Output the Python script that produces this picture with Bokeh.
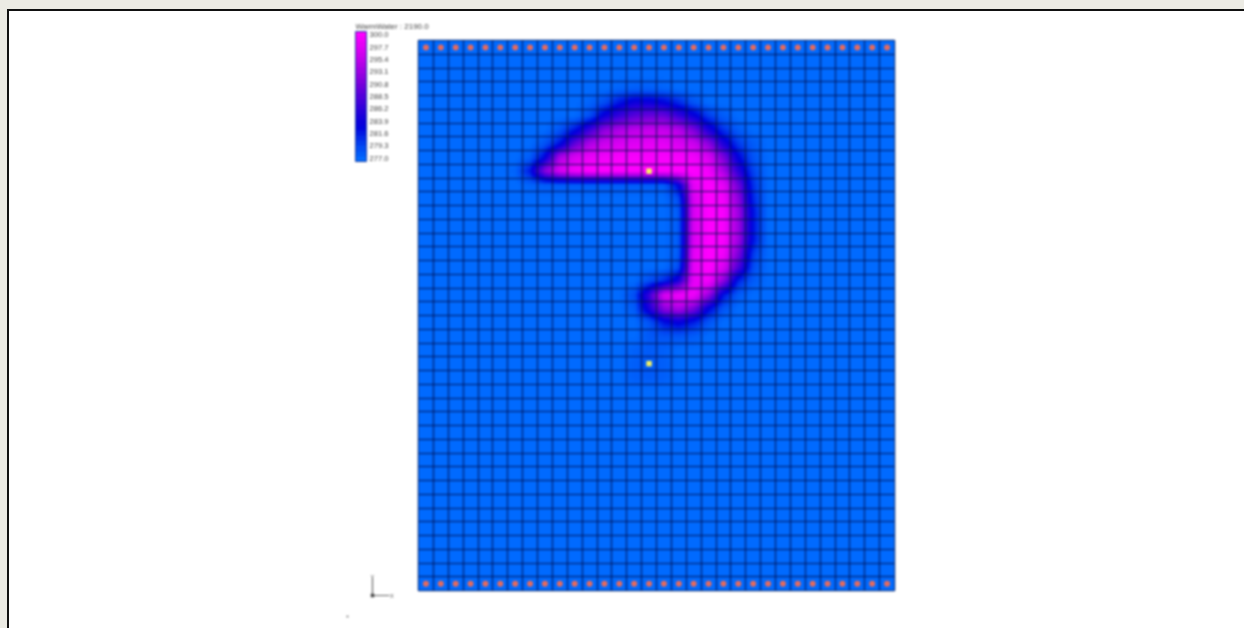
import numpy as np
from bokeh.plotting import figure
from bokeh.core.properties import value
from bokeh.models import LinearColorMapper, ColorBar, FixedTicker, NumeralTickFormatter
from bokeh.embed import file_html
from bokeh.resources import INLINE

N_COLS = 32
N_ROWS = 40
BASE_TEMP = 277.0
TITLE = "WarmWater : 2190.0"
LEGEND_TICKS = [277.0, 279.3, 281.6, 283.9, 286.2, 288.5, 290.8, 293.1, 295.4, 297.7, 300.0]
TRIAD_LABELS = ["X", "Y"]

# (row from top, first column, temperatures)
PLUME = [
    (3, 13, [277.5, 277.8, 277.8, 277.5]),
    (4, 11, [277.5, 279, 282, 284, 284, 283, 281, 278.5]),
    (5, 11, [279, 284, 287, 289, 290, 290, 287, 284, 280, 278]),
    (6, 9, [278.5, 282, 287, 292, 294, 295, 295.5, 295.5, 294.5, 291, 285, 280.5, 278]),
    (7, 8, [278.5, 282, 289, 294, 296, 297, 297.5, 298, 298, 297, 296, 292, 285, 280, 278]),
    (8, 7, [278, 283, 294, 297, 298.5, 299, 299.5, 299.5, 299.5, 299.5, 299.5, 299, 297, 291, 283, 278.5]),
    (9, 6, [277.5, 282, 292, 297, 299, 300, 300, 300, 300, 300, 300, 300, 300, 299, 294, 286, 279.5]),
    (10, 7, [277.5, 278, 278, 278, 278, 278, 278, 278, 278, 278, 283, 298, 300, 298, 290, 280.5]),
    (11, 17, [279, 297, 300, 299, 292, 281]),
    (12, 17, [278, 297, 300, 299.5, 293, 282]),
    (13, 17, [278, 297, 300, 299.5, 293, 282]),
    (14, 17, [278, 297, 300, 299.5, 293, 282]),
    (15, 17, [278, 298, 300, 299, 291, 280]),
    (16, 17, [279, 298, 300, 297, 288, 279]),
    (17, 15, [279, 281, 285, 298, 299, 292, 281, 278]),
    (18, 14, [279, 287, 297, 299, 299, 293, 282, 278]),
    (19, 14, [278, 285, 292, 294, 291, 283, 278.5]),
    (20, 15, [278.5, 282, 283.5, 281.5, 278.5]),
    (21, 15, [278.2, 278.5, 278.5, 278]),
    (22, 14, [277.6, 278, 277.7]),
    (23, 14, [277.8, 278.2, 277.8]),
    (24, 14, [277.8, 278, 277.8]),
]
SOURCE_CELLS = [(15, 9), (15, 23)]

COLOR_STOPS = [
    (277.0, (0, 106, 255)),
    (279.3, (2, 72, 242)),
    (283.0, (0, 0, 220)),
    (286.2, (45, 0, 218)),
    (290.8, (120, 0, 218)),
    (295.4, (195, 0, 235)),
    (300.0, (255, 0, 255)),
]


def ramp(n):
    t = np.linspace(277, 300, n)
    xs = [s[0] for s in COLOR_STOPS]
    out = []
    for v in t:
        c = [int(np.interp(v, xs, [s[1][i] for s in COLOR_STOPS])) for i in range(3)]
        out.append("#%02x%02x%02x" % tuple(c))
    return out


field = np.full((N_ROWS, N_COLS), BASE_TEMP)
for row, first, vals in PLUME:
    field[row, first:first + len(vals)] = vals
field = field[::-1]  # image row 0 is at the bottom

# Smooth shading between cell centres
K = 8
xi = (np.arange(N_COLS * K) + .5) / K - .5
yi = (np.arange(N_ROWS * K) + .5) / K - .5
tmp = np.array([np.interp(xi, np.arange(N_COLS), r) for r in field])
smooth = np.array([np.interp(yi, np.arange(N_ROWS), c) for c in tmp.T]).T

SOFT = "blur(0.9px)"  # the reference is a soft, resampled screenshot
L, T, R, B = 418, 40, 894, 590
W, H = 1228, 612
p = figure(width=W, height=H, x_range=(0, N_COLS), y_range=(0, N_ROWS),
           output_backend="svg", toolbar_location=None, tools="",
           min_border_left=L, min_border_right=W - R,
           min_border_top=T, min_border_bottom=H - B,
           styles={"filter": SOFT, "position": "absolute", "left": "0px", "top": "0px"})
p.border_fill_alpha = 0
p.background_fill_color = "#006aff"
p.outline_line_color = "#0a2a70"
p.outline_line_width = 1.5
p.axis.visible = False

mapper = LinearColorMapper(palette=ramp(256), low=277, high=300)
p.image(image=[smooth], x=0, y=0, dw=N_COLS, dh=N_ROWS, color_mapper=mapper)

for g, n in ((p.xgrid, N_COLS), (p.ygrid, N_ROWS)):
    g.ticker = FixedTicker(ticks=list(range(n + 1)))
    g.grid_line_color = "#001050"
    g.grid_line_alpha = 0.62
    g.grid_line_width = 1.6
    g.level = "annotation"

cols = np.arange(N_COLS) + .5
p.scatter(np.r_[cols, cols], np.r_[np.full(N_COLS, N_ROWS - .5), np.full(N_COLS, .5)],
          marker="circle", size=6, fill_color="#f06a55", line_color=None, fill_alpha=.95, level="annotation")
sx = [c + .5 for c, r in SOURCE_CELLS]
sy = [N_ROWS - r - .5 for c, r in SOURCE_CELLS]
p.scatter(sx, sy, marker="square", size=5.5, fill_color="#f4f060", line_color=None, level="annotation")

bar_map = LinearColorMapper(palette=ramp(25), low=276.35, high=300.65)
bar = ColorBar(color_mapper=bar_map, location=(-63, 429), width=11, height=130,
               ticker=FixedTicker(ticks=LEGEND_TICKS), padding=0, margin=0, label_standoff=3,
               major_label_text_font="Liberation Sans", major_label_text_font_size="7.6px",
               major_label_text_color="#444444", major_tick_line_color=None, minor_tick_line_color=None,
               bar_line_color="#2040a0", background_fill_alpha=0, border_line_color=None,
               formatter=NumeralTickFormatter(format="0.0"))
p.add_layout(bar)


def overlay(width, height, left, top):
    """Small figure placed over the page, one data unit to one pixel."""
    f = figure(width=width, height=height, x_range=(0, width), y_range=(0, height),
               output_backend="svg", toolbar_location=None, tools="",
               min_border_left=0, min_border_right=0, min_border_top=0, min_border_bottom=0,
               styles={"filter": SOFT, "position": "absolute", "left": f"{left}px", "top": f"{top}px"})
    f.border_fill_alpha = 0
    f.background_fill_alpha = 0
    f.outline_line_color = None
    f.axis.visible = False
    f.grid.visible = False
    return f


head = overlay(90, 12, 355, 18.5)
head.text([0], [5.5], text=[TITLE], text_font=value("Liberation Sans"), text_font_size="8px",
          text_color="#444444", text_baseline="middle")

q = overlay(60, 56, 345, 572)
ox, oy, len_x, len_y = 27, 33, 17, 18
q.segment([ox, ox], [oy, oy], [ox + len_x, ox], [oy, oy + len_y], line_color="#666666", line_width=1.2)
q.scatter([ox], [oy], marker="square", size=3.5, fill_color="#444444", line_color=None)
q.text([ox + len_x + .5, ox - 2], [oy, oy + len_y + .5], text=TRIAD_LABELS, text_font=value("Liberation Sans"),
       text_font_size="5.5px", text_color="#555555", text_baseline="middle")
q.scatter([2], [12], marker="square", size=1.5, fill_color="#444444", line_color=None)

html = file_html([p, head, q], INLINE)
css = ("<style>html{background:#ecebe4}"
       "body::before{content:'';position:fixed;left:7px;top:9px;right:0;bottom:0;background:#fff;"
       "border-left:2px solid #111;border-top:2px solid #111;z-index:-1}</style>")
html = html.replace("</head>", css + "</head>", 1)
open("out.html", "w").write(html)
